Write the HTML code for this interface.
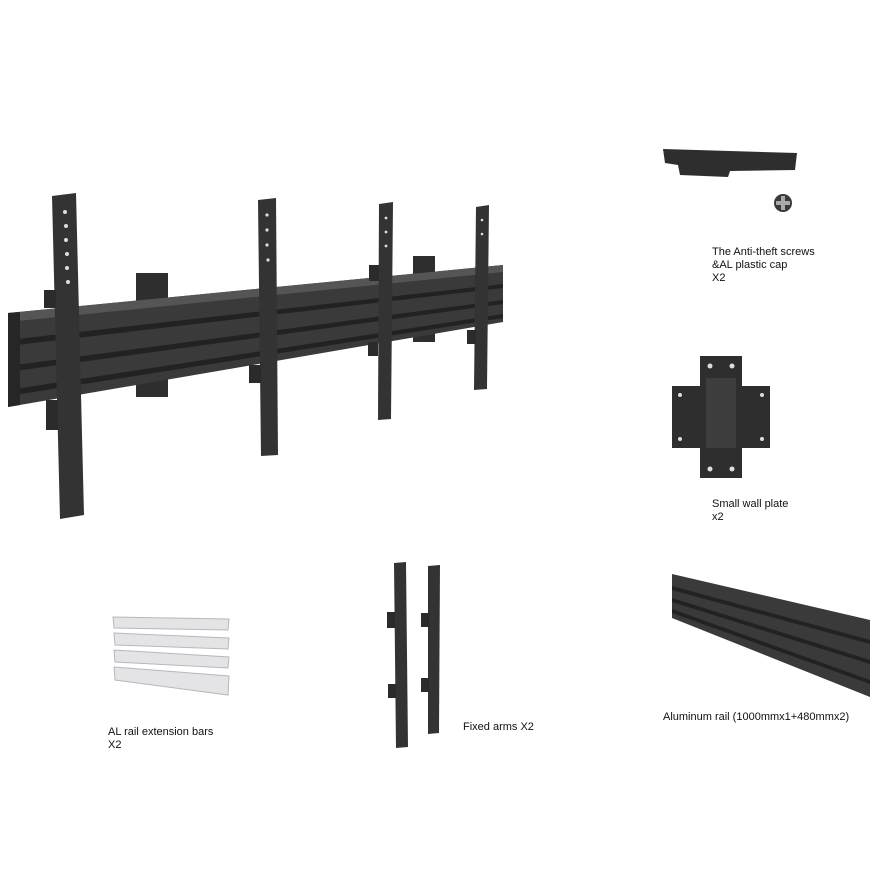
<!DOCTYPE html>
<html><head><style>
html,body{margin:0;padding:0;background:#fff;}
svg{display:block;}
text{font-family:"Liberation Sans",sans-serif;font-size:11px;fill:#111;}
</style></head><body>
<svg width="893" height="893" viewBox="0 0 893 893" xmlns="http://www.w3.org/2000/svg">
<rect width="893" height="893" fill="#fff"/>
<!-- wall plates behind -->
<rect x="136" y="273" width="32" height="30" fill="#2e2e2e"/>
<rect x="136" y="365" width="32" height="32" fill="#2e2e2e"/>
<rect x="413" y="256" width="22" height="22" fill="#2e2e2e"/>
<rect x="413" y="322" width="22" height="20" fill="#2e2e2e"/>
<!-- main rail -->
<polygon points="8,313 503,265 503,322 8,407" fill="#3a3a3a"/>
<polygon points="8,313 503,265 503,272 8,322" fill="#555"/>
<polygon points="8,340 503,284 503,288 8,346" fill="#222"/>
<polygon points="8,366 503,300 503,304 8,372" fill="#222"/>
<polygon points="8,390 503,314 503,318 8,396" fill="#222"/>
<polygon points="8,313 20,312 20,405 8,407" fill="#262626"/>
<!-- arms -->
<polygon points="52,196 76,193 84,515 60,519" fill="#333"/>
<rect x="44" y="290" width="12" height="18" fill="#2b2b2b"/>
<rect x="46" y="400" width="12" height="30" fill="#2b2b2b"/>
<polygon points="258,200 276,198 278,455 261,456" fill="#333"/>
<rect x="249" y="365" width="12" height="18" fill="#2b2b2b"/>
<polygon points="379,204 393,202 391,419 378,420" fill="#333"/>
<rect x="369" y="265" width="10" height="16" fill="#2b2b2b"/>
<rect x="368" y="342" width="10" height="14" fill="#2b2b2b"/>
<polygon points="476,207 489,205 487,389 474,390" fill="#333"/>
<rect x="467" y="330" width="9" height="14" fill="#2b2b2b"/>
<!-- holes -->
<g fill="#ddd">
<circle cx="65" cy="212" r="2"/><circle cx="66" cy="226" r="2"/><circle cx="66" cy="240" r="2"/><circle cx="67" cy="254" r="2"/><circle cx="67" cy="268" r="2"/><circle cx="68" cy="282" r="2"/>
<circle cx="267" cy="215" r="1.6"/><circle cx="267" cy="230" r="1.6"/><circle cx="267" cy="245" r="1.6"/><circle cx="268" cy="260" r="1.6"/>
<circle cx="386" cy="218" r="1.4"/><circle cx="386" cy="232" r="1.4"/><circle cx="386" cy="246" r="1.4"/>
<circle cx="482" cy="220" r="1.3"/><circle cx="482" cy="234" r="1.3"/>
</g>
<!-- top right cap & screw -->
<polygon points="663,149 797,153 795,170 730,171 728,177 680,175 678,165 665,163" fill="#2e2e2e"/>
<circle cx="783" cy="203" r="9" fill="#3a3a3a"/>
<rect x="781" y="196" width="4" height="14" fill="#aaa"/><rect x="776" y="201" width="14" height="4" fill="#aaa"/>
<text x="712" y="255">The Anti-theft screws</text>
<text x="712" y="268">&amp;AL plastic cap</text>
<text x="712" y="281">X2</text>
<!-- small wall plate -->
<rect x="700" y="356" width="42" height="122" fill="#2e2e2e"/>
<rect x="672" y="386" width="98" height="62" fill="#2e2e2e"/>
<rect x="706" y="378" width="30" height="70" fill="#3d3d3d"/>
<g fill="#ddd"><circle cx="710" cy="366" r="2.5"/><circle cx="732" cy="366" r="2.5"/><circle cx="710" cy="469" r="2.5"/><circle cx="732" cy="469" r="2.5"/><circle cx="680" cy="395" r="2"/><circle cx="762" cy="395" r="2"/><circle cx="680" cy="439" r="2"/><circle cx="762" cy="439" r="2"/></g>
<text x="712" y="507">Small wall plate</text>
<text x="712" y="520">x2</text>
<!-- aluminum rail -->
<polygon points="672,574 870,620 870,697 672,618" fill="#3a3a3a"/>
<polygon points="672,586 870,640 870,644 672,590" fill="#222"/>
<polygon points="672,598 870,660 870,664 672,602" fill="#222"/>
<polygon points="672,609 870,680 870,684 672,613" fill="#222"/>
<text x="663" y="720">Aluminum rail (1000mmx1+480mmx2)</text>
<!-- fixed arms -->
<polygon points="394,563 406,562 408,747 396,748" fill="#333"/>
<rect x="387" y="612" width="8" height="16" fill="#2b2b2b"/><rect x="388" y="684" width="8" height="14" fill="#2b2b2b"/>
<polygon points="428,566 440,565 439,733 428,734" fill="#333"/>
<rect x="421" y="613" width="8" height="14" fill="#2b2b2b"/><rect x="421" y="678" width="8" height="14" fill="#2b2b2b"/>
<text x="463" y="730">Fixed arms X2</text>
<!-- extension bars -->
<g fill="#e4e4e6" stroke="#b8b8bc" stroke-width="1">
<polygon points="113,617 229,619 228,630 114,628"/>
<polygon points="114,633 229,638 228,649 115,645"/>
<polygon points="114,650 229,657 228,668 115,662"/>
<polygon points="114,667 229,676 228,695 115,680"/>
</g>
<text x="108" y="735">AL rail extension bars</text>
<text x="108" y="748">X2</text>
</svg>
</body></html>
